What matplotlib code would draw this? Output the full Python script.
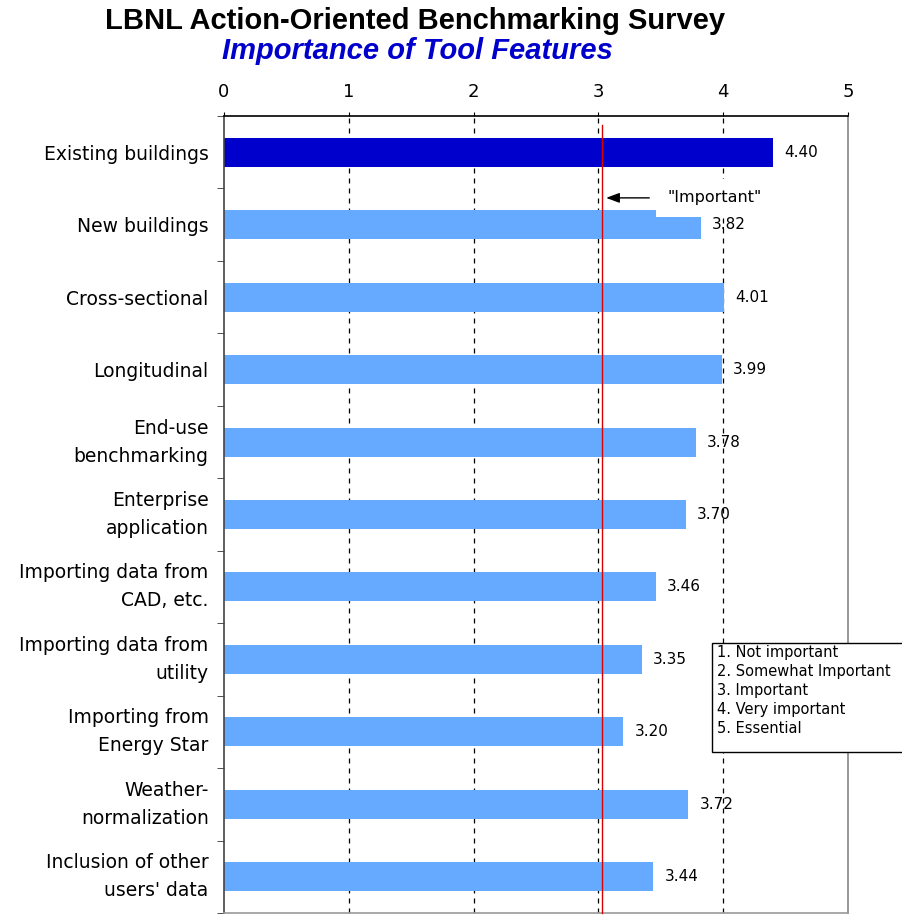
import numpy as np
import matplotlib.pyplot as plt
from matplotlib.patches import Rectangle

# survey results: mean importance score per tool feature
features = ["Existing buildings", "New buildings", "Cross-sectional", "Longitudinal",
            "End-use\nbenchmarking", "Enterprise\napplication",
            "Importing data from\nCAD, etc.", "Importing data from\nutility",
            "Importing from\nEnergy Star", "Weather-\nnormalization",
            "Inclusion of other\nusers' data"]
scores = [4.40, 3.82, 4.01, 3.99, 3.78, 3.70, 3.46, 3.35, 3.20, 3.72, 3.44]
scale_labels = ["1. Not important", "2. Somewhat Important", "3. Important",
                "4. Very important", "5. Essential"]
important_level = 3.03

fig = plt.figure(figsize=(9.03, 9.16), dpi=100)
ax = fig.add_axes([224/903, 1 - 913/916, 624/903, 797/916])

y = np.arange(len(features))
colors = ["#0000cc"] + ["#66aaff"] * (len(features) - 1)
ax.barh(y, scores, height=0.4, color=colors, zorder=2)

for yi, s in zip(y, scores):
    ax.text(s + 0.09, yi, "%.2f" % s, va="center", ha="left", fontsize=11,
            family="DejaVu Sans", zorder=6)

ax.set_xlim(0, 5)
ax.set_ylim(len(features) - 0.5, -0.5)

# dashed gridlines at integer scores
for xv in [1, 2, 3, 4]:
    ax.axvline(xv, color="black", lw=0.9, ls=(0, (4, 4)), zorder=1)

ax.plot([important_level, important_level], [-0.38, len(features) - 0.5],
        color="#dd0000", lw=1.0, zorder=4, clip_on=False)

ax.xaxis.tick_top()
ax.set_xticks(range(6))
ax.tick_params(axis="x", labelsize=13, length=3, pad=8)
ax.set_yticks(y)
ax.set_yticklabels(features, fontsize=13.5, family="DejaVu Sans", linespacing=1.6)
for lbl in ax.get_yticklabels():
    if "\n" in lbl.get_text():
        lbl.set_va("center")
ax.set_yticks(np.arange(-0.5, len(features), 1), minor=True)
ax.tick_params(axis="y", which="major", length=0, pad=11)
ax.tick_params(axis="y", which="minor", length=5, color="#333333")

ax.spines["top"].set_color("black")
ax.spines["left"].set_color("#444444")
ax.spines["right"].set_color("#888888")
ax.spines["bottom"].set_color("#999999")
for s in ax.spines.values():
    s.set_linewidth(1.2)

# "Important" marker with white label box
ax.text(3.55, 0.63, '"Important"', fontsize=11.5, family="DejaVu Sans", va="center",
        ha="left", zorder=5,
        bbox=dict(facecolor="white", edgecolor="none", pad=8))
ax.annotate("", xy=(important_level + 0.01, 0.63), xytext=(3.43, 0.63),
            arrowprops=dict(arrowstyle="-|>,head_length=0.8,head_width=0.3",
                            color="black", lw=1.0), zorder=6)

# scale key
fig.patches.append(Rectangle((712/903, 1 - 752/916), 200/903, 109/916,
                             transform=fig.transFigure, facecolor="white",
                             edgecolor="black", lw=1.0, zorder=5))
fig.text(717/903, 1 - 645/916, "\n".join(scale_labels), fontsize=10.5,
         family="DejaVu Sans", va="top", ha="left", linespacing=1.33, zorder=6)

fig.text(415/903, 1 - 21/916, "LBNL Action-Oriented Benchmarking Survey",
         fontsize=21, fontweight="bold", family="Liberation Sans", ha="center", va="center")
fig.text(417/903, 1 - 51/916, "Importance of Tool Features", fontsize=21,
         fontweight="bold", style="italic", color="#0000cc", family="Liberation Sans",
         ha="center", va="center")

fig.savefig("out.png", dpi=100)
